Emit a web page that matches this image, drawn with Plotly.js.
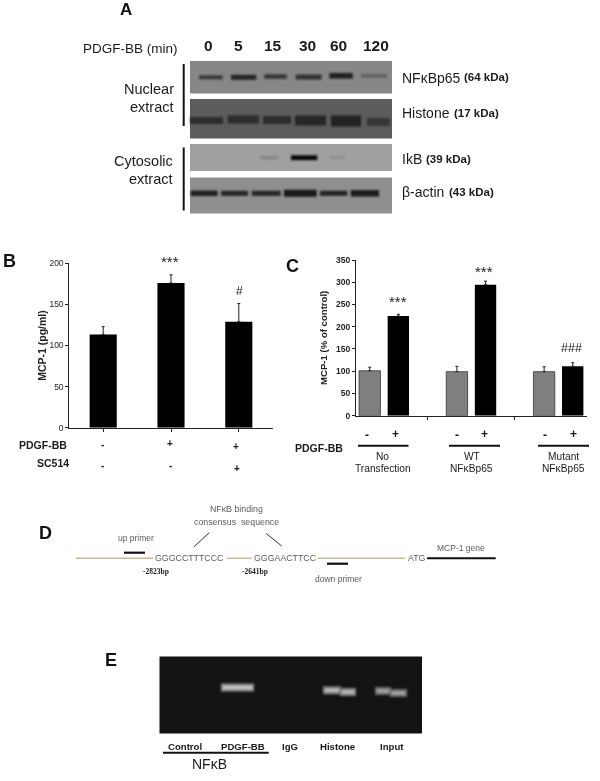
<!DOCTYPE html>
<html><head><meta charset="utf-8">
<script src="https://cdn.plot.ly/plotly-3.0.1.min.js"></script>
<style>html,body{margin:0;padding:0;background:#fff}#g{width:600px;height:781px;filter:blur(0.45px)}</style>
</head><body><div id="g"></div>
<script>
// Panel B values
const bCategories = ["Control", "PDGF-BB", "PDGF-BB + SC514"];
const bMeans = [113.5, 176, 129];
const bErrors = [9.5, 10, 22];
const bTicks = [0, 50, 100, 150, 200];
// Panel C values
const cGroups = ["No Transfection", "WT NFκBp65", "Mutant NFκBp65"];
const cControl = [101, 99, 99];
const cControlErr = [8, 12, 11];
const cPdgf = [224, 294.5, 111];
const cPdgfErr = [4, 8, 8];
const cTicks = [0, 50, 100, 150, 200, 250, 300, 350];
// Panel A band darkness per lane (0..1)
const blotTimes = ["0", "5", "15", "30", "60", "120"];
const nfkbBands = [0.72, 0.9, 0.75, 0.8, 0.95, 0.32];
const histoneBands = [0.62, 0.62, 0.62, 0.7, 0.75, 0.5];
const ikbBands = [0, 0, 0.16, 1, 0.1, 0];
const actinBands = [0.95, 0.9, 0.9, 1, 0.92, 0.97];
// Panel E band brightness
const gelLabels = ["Control", "PDGF-BB", "IgG", "Histone", "Input"];
const gelBands = [0, 0.95, 0, 0.85, 0.7];

const W = 600, H = 781;
const px = x => x / W, py = y => 1 - y / H;
const shapes = [], softShapes = [], annotations = [];

function txt(text, x, y, size, opts) {
  opts = opts || {};
  annotations.push({
    text, x: px(x), y: py(y), xref: 'paper', yref: 'paper', showarrow: false,
    xanchor: opts.xanchor || 'center', yanchor: 'middle', borderpad: 0,
    font: {size, color: opts.color || '#1a1a1a', family: opts.family || 'Liberation Sans, Arial, sans-serif'}
  });
}
const bold = s => '<b>' + s + '</b>';
function line(x0, y0, x1, y1, color, width) {
  shapes.push({type: 'line', xref: 'paper', yref: 'paper', x0: px(x0), x1: px(x1), y0: py(y0), y1: py(y1),
    line: {color, width}});
}
function rect(x0, y0, x1, y1, color, list) {
  (list || shapes).push({type: 'rect', xref: 'paper', yref: 'paper', x0: px(x0), x1: px(x1), y0: py(y0), y1: py(y1),
    fillcolor: color, line: {width: 0}});
}
const grey = (v, a) => 'rgba(' + v + ',' + v + ',' + v + ',' + a + ')';

// Sharp backgrounds (blots and gel)
const blotL = 190, blotR = 392;
rect(blotL, 61, blotR, 93.5, '#878787', softShapes);
rect(blotL, 99, blotR, 138.5, '#5c5c5c', softShapes);
rect(blotL, 144, blotR, 171, '#a0a0a0', softShapes);
rect(blotL, 177.5, blotR, 213.5, '#8f8f8f', softShapes);
rect(159.5, 656.5, 422, 733.5, '#131313', softShapes);
const sharpCount = softShapes.length;

const nfkbX = [[199, 222.7], [231, 256.3], [264.3, 286.7], [295.7, 321.7], [329.3, 352.7], [361, 387]];
const nfkbY = [77.3, 77.3, 76.5, 77, 75.8, 75.8];
const nfkbH = [4, 5, 4.5, 5, 5.5, 4];
const histX = [[190, 223], [227.7, 259], [263, 291], [295, 326], [331, 361], [367, 390]];
const histY = [120.5, 119.5, 120, 120.5, 121, 122];
const histH = [7, 8, 8, 10, 11, 8];
const ikbX = [[260, 278], [260, 278], [260, 278], [291, 317.3], [330, 345], [362, 387]];
const actinX = [[190.7, 217.7], [221, 248], [251.7, 280.7], [284, 316.7], [320, 347.3], [350.7, 379]];
const actinH = [5.5, 5, 5, 7, 5, 6.5];
function bands(vals, xs, ys, hs, dark) {
  vals.forEach((v, i) => {
    if (v <= 0) return;
    rect(xs[i][0], ys[i] - hs[i] / 2, xs[i][1], ys[i] + hs[i] / 2, grey(dark, v), softShapes);
  });
}
const same = v => blotTimes.map(() => v);
bands(nfkbBands, nfkbX, nfkbY, nfkbH, 25);
bands(histoneBands, histX, histY, histH, 15);
bands(ikbBands, ikbX, same(157.7), [3.5, 3.5, 3.5, 4.8, 3, 3], 5);
bands(actinBands, actinX, same(193.3), actinH, 25);

// Gel bands: outer glow and soft core, two segments each (slightly tilted)
const gelSegs = [null, [[221, 254, 687.5]], null,
  [[323, 341, 690.3], [340, 356, 692]], [[375, 391, 691], [390, 407, 693]]];
gelBands.forEach((v, i) => {
  if (v <= 0) return;
  gelSegs[i].forEach(s => {
    rect(s[0], s[2] - 4, s[1], s[2] + 4, grey(150, v), softShapes);
    rect(s[0] + 2, s[2] - 1.3, s[1] - 2, s[2] + 1.3, grey(225, v * 0.85), softShapes);
  });
});
const softEnd = softShapes.length;

// Panel A lines and labels
line(183.7, 64, 183.7, 126, '#111', 2);
line(183.7, 147.5, 183.7, 210.5, '#111', 2);
const bigSize = 18;
txt(bold('A'), 126, 9.5, 17, {color: '#111'});
txt('PDGF-BB (min)', 130, 48, 13.5);
const laneLabelX = [208, 238, 273, 307, 339, 376];
blotTimes.forEach((t, i) => txt(bold(t), laneLabelX[i], 46, 15.5));
txt('Nuclear', 175, 89, 14.5, {xanchor: 'right'});
txt('extract', 175, 107, 14.5, {xanchor: 'right'});
txt('Cytosolic', 174, 161, 14.5, {xanchor: 'right'});
txt('extract', 174, 179, 14.5, {xanchor: 'right'});
txt('NFκBp65', 401, 77.5, 14, {xanchor: 'left'});
txt(bold('(64 kDa)'), 463, 76.5, 11.5, {xanchor: 'left'});
txt('Histone', 401, 112.5, 14, {xanchor: 'left'});
txt(bold('(17 kDa)'), 453, 112.5, 11.5, {xanchor: 'left'});
txt('IkB', 401, 159, 14, {xanchor: 'left'});
txt(bold('(39 kDa)'), 425, 159.5, 11.5, {xanchor: 'left'});
txt('β-actin', 401, 192, 14, {xanchor: 'left'});
txt(bold('(43 kDa)'), 448, 192, 11.5, {xanchor: 'left'});

// Panel letters
[['B', 9, 261], ['C', 292, 266], ['D', 45, 533], ['E', 111, 660]].forEach(a => txt(bold(a[0]), a[1], a[2], bigSize, {color: '#111'}));

// Panel B labels
txt(bold('PDGF-BB'), 68, 445, 10.5, {xanchor: 'right'});
txt(bold('SC514'), 70, 463, 10.5, {xanchor: 'right'});
[['-', 102, 445], ['+', 170, 443.5], ['+', 236, 446], ['-', 102, 465.5], ['-', 170, 465.5], ['+', 237, 468]]
  .forEach(a => txt(bold(a[0]), a[1], a[2], 10));
txt('***', 170, 262, 15);
txt('#', 239, 291.5, 12);

// Panel C labels
[['-', 367.3, 435.5], ['+', 395.7, 434], ['-', 457.3, 435.5], ['+', 484, 434], ['-', 545, 435.5], ['+', 573, 434]]
  .forEach(a => txt(bold(a[0]), a[1], a[2], 12));
line(358, 445.7, 408.5, 445.7, '#111', 2);
line(449, 445.7, 500, 445.7, '#111', 2);
line(538, 445.7, 589, 445.7, '#111', 2);
txt(bold('PDGF-BB'), 344, 448, 10.5, {xanchor: 'right'});
txt('No', 382.7, 456, 10.2);
txt('Transfection', 382.7, 468, 10.2);
txt('WT', 471.7, 456, 10.2);
txt('NFκBp65', 471.7, 468, 10.2);
txt('Mutant', 563.3, 456, 10.2);
txt('NFκBp65', 563.3, 468, 10.2);
txt('***', 398.3, 301, 15);
txt('***', 484, 271, 15);
txt('###', 571, 348, 12.5);

// Panel D
const tan = '#c9b98d';
line(75.7, 558.3, 153, 558.3, tan, 1.5);
line(226.7, 558.3, 251.7, 558.3, tan, 1.5);
line(317.7, 558.3, 405, 558.3, tan, 1.5);
line(427, 558.3, 495.7, 558.3, '#111', 2);
line(124, 552.7, 145, 552.7, '#111', 2.2);
line(327, 563.7, 348, 563.7, '#111', 2.2);
line(194, 546.7, 209.3, 532.7, '#333', 1);
line(266, 533.3, 281.7, 546, '#333', 1);
const dGrey = '#5a5a5a';
txt('GGGCCTTTCCC', 189, 558.3, 8.8, {color: dGrey});
txt('GGGAACTTCC', 285, 558.3, 8.8, {color: dGrey});
txt('ATG', 416.5, 558.3, 8.8, {color: dGrey});
txt('NFκB binding', 236.7, 509.3, 8.8, {color: dGrey});
txt('consensus  sequence', 236.7, 521.7, 8.8, {color: dGrey});
txt('up primer', 136, 537.7, 8.5, {color: dGrey});
txt('MCP-1 gene', 461, 547.7, 8.5, {color: dGrey});
txt('down primer', 338, 579, 8.5, {color: dGrey});
txt(bold('-2823bp'), 156, 571, 7.5, {family: 'Liberation Serif'});
txt(bold('-2641bp'), 255.3, 571, 7.5, {family: 'Liberation Serif'});

// Panel E labels
const gelLabelX = [184.7, 243.3, 290, 337, 392];
gelLabels.forEach((t, i) => txt(bold(t), gelLabelX[i], 746.7, 9.6));
line(163, 752.7, 268.7, 752.7, '#111', 2);
txt('NFκB', 209, 764, 14);

const axisFont = {size: 8.5, color: '#222', family: 'Liberation Sans'};
const baseY = {
  showgrid: false, zeroline: false, showline: true, linecolor: '#222', linewidth: 1,
  ticks: 'outside', ticklen: 3, tickcolor: '#222', tickfont: axisFont
};
const baseX = {
  showgrid: false, zeroline: false, showline: true, linecolor: '#222', linewidth: 1.2,
  ticks: 'outside', ticklen: 3, tickcolor: '#222', showticklabels: false
};

const errStyle = {thickness: 1, width: 1.5, color: '#222'};
const traces = [
  {type: 'bar', x: bCategories, y: bMeans, xaxis: 'x', yaxis: 'y', width: 0.4,
   marker: {color: '#000'}, showlegend: false,
   error_y: Object.assign({type: 'data', symmetric: false, array: bErrors, arrayminus: [0, 0, 0]}, errStyle)},
  {type: 'bar', x: cGroups.map((_, i) => i), y: cControl, xaxis: 'x2', yaxis: 'y2', width: 0.245, offset: -0.286,
   marker: {color: '#7f7f7f', line: {color: '#333', width: 0.8}}, showlegend: false,
   error_y: Object.assign({type: 'data', symmetric: false, array: cControlErr, arrayminus: [0, 0, 0]}, errStyle)},
  {type: 'bar', x: cGroups.map((_, i) => i), y: cPdgf, xaxis: 'x2', yaxis: 'y2', width: 0.245, offset: 0.042,
   marker: {color: '#000'}, showlegend: false,
   error_y: Object.assign({type: 'data', symmetric: false, array: cPdgfErr, arrayminus: [0, 0, 0]}, errStyle)}
];

const layout = {
  width: W, height: H, margin: {l: 0, r: 0, t: 0, b: 0}, paper_bgcolor: '#fff', plot_bgcolor: 'rgba(0,0,0,0)',
  showlegend: false, barmode: 'overlay',
  xaxis: Object.assign({}, baseX, {domain: [px(69.3), px(272.7)], type: 'category', range: [-0.5, 2.5], anchor: 'y'}),
  yaxis: Object.assign({}, baseY, {domain: [py(427.7), py(263.3)], range: [0, 200], tickvals: bTicks, anchor: 'x',
    title: {text: '<b>MCP-1 (pg/ml)</b>', font: {size: 10.5, color: '#222', family: 'Liberation Sans'}, standoff: 0}}),
  xaxis2: Object.assign({}, baseX, {domain: [px(356), px(586.7)], range: [-0.321, 2.325], tickvals: [0.5, 1.5], anchor: 'y2'}),
  yaxis2: Object.assign({}, baseY, {domain: [py(415.7), py(260)], range: [0, 350], tickvals: cTicks,
    ticktext: cTicks.map(t => '<b>' + t + '</b>'), anchor: 'x2',
    title: {text: '<b>MCP-1 (% of control)</b>', font: {size: 9.6, color: '#222', family: 'Liberation Sans'}, standoff: 6}}),
  shapes: softShapes.concat(shapes), annotations
};
Plotly.newPlot('g', traces, layout, {staticPlot: true, displayModeBar: false}).then(() => {
  document.querySelectorAll('.shapelayer path[data-index]').forEach(p => {
    const i = +p.getAttribute('data-index');
    if (i >= sharpCount && i < softEnd) p.style.filter = 'blur(1.2px)';
  });
});
</script></body></html>
